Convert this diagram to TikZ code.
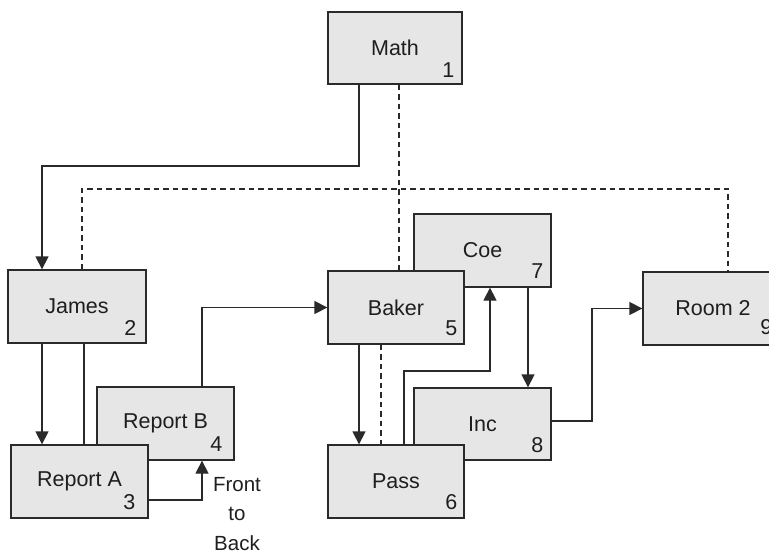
\documentclass[tikz,border=0pt]{standalone}
\usepackage{fontspec}
\setmainfont{Liberation Sans}
\usetikzlibrary{arrows.meta}
\definecolor{boxfill}{HTML}{E6E6E6}
\definecolor{edge}{HTML}{2A2A2A}
\definecolor{ink}{HTML}{1E1E1E}
\tikzset{
  box/.style={draw=edge, fill=boxfill, line width=1.3pt, minimum width=137, minimum height=73,
    inner sep=0, text=ink, font=\fontsize{21.5}{25}\selectfont},
  num/.style={anchor=south east, inner sep=0, text=ink, font=\fontsize{21.5}{25}\selectfont},
  conn/.style={draw=edge, line width=1.3pt},
  arr/.style={conn, -{Triangle[length=13pt,width=13pt]}},
  dsh/.style={conn, dash pattern=on 5.5pt off 4pt},
  note/.style={align=center, text=ink, font=\fontsize{20.5}{29.5}\selectfont, inner sep=0}
}
\begin{document}
\begin{tikzpicture}[x=1pt,y=-1pt]
\clip (0,0) rectangle (769,554);
\fill[white] (0,0) rectangle (769,554);
% boxes (back ones first)
\node[box, minimum width=134, minimum height=72] (math) at (395,48) {Math};
\node[num] (n1) at ([shift={(-8,-7)}]math.south east) {1};
\node[box, minimum width=138] (james) at (77,306.5) {James};
\node[num] (n2) at ([shift={(-10,-8)}]james.south east) {2};
\node[box] (repb) at (165.5,423.5) {Report B};
\node[num] (n4) at ([shift={(-12,-9)}]repb.south east) {4};
\node[box] (repa) at (79.5,481.5) {Report A};
\node[num] (n3) at ([shift={(-13,-9)}]repa.south east) {3};
\node[box] (coe) at (482.5,250.5) {Coe};
\node[num] (n7) at ([shift={(-8,-9)}]coe.south east) {7};
\node[box, minimum width=136] (baker) at (396,307.5) {Baker};
\node[num] (n5) at ([shift={(-7,-9)}]baker.south east) {5};
\node[box, minimum height=72] (inc) at (482.5,424) {Inc};
\node[num] (n8) at ([shift={(-8,-8)}]inc.south east) {8};
\node[box, minimum width=136] (pass) at (396,481.5) {Pass};
\node[num] (n6) at ([shift={(-7,-9)}]pass.south east) {6};
\node[box, minimum width=140] (room) at (713,308.5) {Room 2};
\node[num] (n9) at ([shift={(-11,-11)}]room.south east) {9};
% connectors
\draw[arr] (359,0 |- math.south) -- (359,166) -| (42,0 |- james.north);
\draw[dsh] (399,0 |- math.south) -- (399,0 |- baker.north);
\draw[dsh] (82,0 |- james.north) |- (728,189) -- (728,0 |- room.north);
\draw[arr] (42,0 |- james.south) -- (42,0 |- repa.north);
\draw[conn] (84,0 |- james.south) -- (84,0 |- repa.north);
\draw[arr] (repa.east |- 0,500) -| (202,0 |- repb.south);
\draw[arr] (202,0 |- repb.north) |- (baker.west);
\draw[arr] (359,0 |- baker.south) -- (359,0 |- pass.north);
\draw[dsh] (381,0 |- baker.south) -- (381,0 |- pass.north);
\draw[arr] (404,0 |- pass.north) -- (404,371) -| (490,0 |- coe.south);
\draw[arr] (528,0 |- coe.south) -- (528,0 |- inc.north);
\draw[arr] (inc.east |- 0,421) -| (592,0 |- room.west) -- (room.west);
% note
\node[note] (ftb) at (237,514) {Front\\to\\Back};
\end{tikzpicture}
\end{document}
